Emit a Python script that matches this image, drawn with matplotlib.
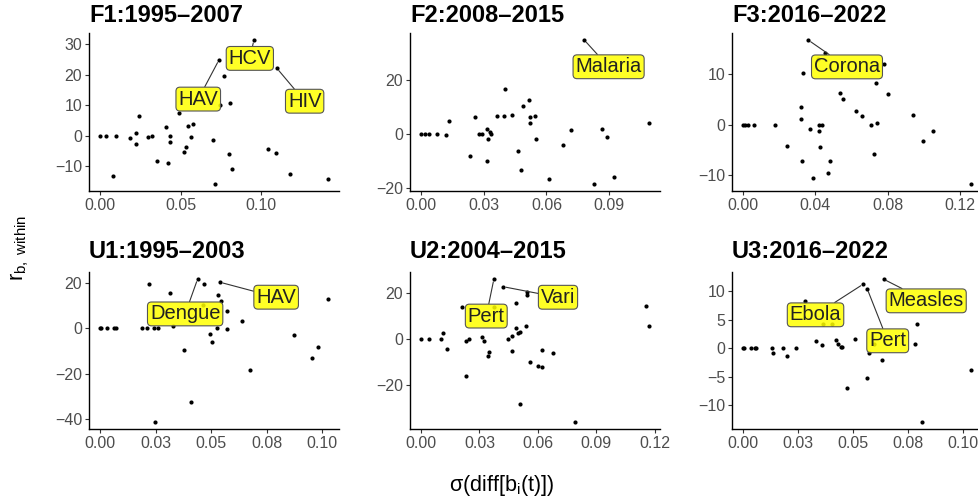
import matplotlib
matplotlib.use("Agg")
import matplotlib.pyplot as plt

plt.rcParams['font.family'] = ['Liberation Sans', 'DejaVu Sans']
plt.rcParams['mathtext.fontset'] = 'custom'
plt.rcParams['mathtext.rm'] = 'Liberation Sans'
plt.rcParams['mathtext.it'] = 'Liberation Sans'

# ---------------- data ----------------
titles = ["F1:1995\u20132007", "F2:2008\u20132015", "F3:2016\u20132022",
          "U1:1995\u20132003", "U2:2004\u20132015", "U3:2016\u20132022"]

F1_x = [0.000, 0.0037, 0.0097, 0.0079, 0.0182, 0.0222, 0.0224, 0.0238, 0.0298, 0.0319, 0.035, 0.0408,
        0.042, 0.0433, 0.0435, 0.0487, 0.0522, 0.0534, 0.0547, 0.0567, 0.0578, 0.0702, 0.0716, 0.0737,
        0.0772, 0.0746, 0.0807, 0.0799, 0.0818, 0.0955, 0.1041, 0.1099, 0.109, 0.1178, 0.1414]
F1_y = [0, 0, 0, -13.2, -0.9, 0.9, -2.9, 6.5, -0.4, 0, -8.5, 2.7, -9.0, 0, -2.0, 7.5, -5.3, -3.7, 3.2,
        -0.4, 3.7, -1.4, -15.9, 24.8, 19.7, 9.9, 10.8, -6.2, -10.9, 31.4, -4.3, 22.1, -5.7, -12.7, -14.2]
F1_names = ["HAV", "HCV", "HIV"]
F1_lab_x = [0.0737, 0.0955, 0.1099]
F1_lab_y = [24.8, 31.4, 22.1]

F2_x = [0, 0.0019, 0.0038, 0.0073, 0.0118, 0.0134, 0.0235, 0.0257, 0.0275, 0.029, 0.0313, 0.0314, 0.0321,
        0.033, 0.0332, 0.0362, 0.0394, 0.0402, 0.0436, 0.0464, 0.0476, 0.0488, 0.0514, 0.0522, 0.0523,
        0.0544, 0.0551, 0.0614, 0.0678, 0.0718, 0.0782, 0.0828, 0.0868, 0.0889, 0.0924, 0.109]
F2_y = [0, 0, 0, 0, -0.5, 5.0, -8.2, 6.3, 0, 0, 1.9, -10.1, -1.9, 0.7, -0.1, 6.8, 6.8, 16.9, 7.3, -6.3,
        -13.2, 10.4, 12.8, 6.5, 4.1, 6.8, -1.7, -16.8, -4.1, 1.5, 35.0, -18.5, 1.9, -1.2, -15.9, 4.1]
F2_names = ["Malaria"]
F2_lab_x = [0.0782]
F2_lab_y = [35.0]

F3_x = [0, 0.0007, 0.0026, 0.0061, 0.0175, 0.0243, 0.0319, 0.032, 0.0327, 0.0329, 0.0361, 0.0367, 0.0389,
        0.042, 0.0422, 0.0424, 0.0435, 0.0455, 0.0472, 0.0483, 0.0535, 0.0551, 0.0627, 0.0656, 0.0706,
        0.0726, 0.0737, 0.0741, 0.0783, 0.0802, 0.0942, 0.0994, 0.1053, 0.1261, 0.0415]
F3_y = [0, 0, 0, 0, 0, -4.1, 1.2, 3.6, -7.1, 10.2, 16.8, -0.8, -10.6, -1.3, 0, -4.4, 0, 14.3, -9.6, -7.1,
        6.3, 5.2, 2.8, 1.7, 0, -5.7, 8.3, 0.3, 12.1, 6.1, 1.9, -3.2, -1.3, -11.7, 13.1]
F3_names = ["Corona"]
F3_lab_x = [0.0361]
F3_lab_y = [16.8]

U1_x = [0, 0.0003, 0.003, 0.0061, 0.007, 0.0186, 0.0211, 0.0219, 0.0243, 0.0246, 0.0258, 0.0316, 0.0327,
        0.0375, 0.0409, 0.0438, 0.0469, 0.0463, 0.0493, 0.0504, 0.0525, 0.0531, 0.054, 0.0543, 0.0571,
        0.0571, 0.0636, 0.0676, 0.0871, 0.0952, 0.0982, 0.1024]
U1_y = [0, 0, 0, 0, 0, 0, 0, 19.5, 0, -41.4, 0, 15.7, 0.9, -9.5, -32.8, 21.8, 19.5, 10.4, -2.6, -5.9, 0,
        14.9, 20.4, 11.9, 7.5, -0.4, 3.4, -18.6, -2.9, -13.2, -8.2, 13.2]
U1_names = ["Dengue", "HAV"]
U1_lab_x = [0.0438, 0.054]
U1_lab_y = [21.8, 20.4]

U2_x = [0.0002, 0.0043, 0.0103, 0.0113, 0.0132, 0.0212, 0.0229, 0.0232, 0.0246, 0.0315, 0.0321, 0.0347,
        0.0344, 0.0374, 0.0376, 0.0422, 0.0448, 0.0467, 0.0467, 0.0489, 0.049, 0.0499, 0.0506, 0.0509,
        0.054, 0.0545, 0.0545, 0.0561, 0.06, 0.0621, 0.0621, 0.0677, 0.079, 0.1156, 0.1168]
U2_y = [0, 0, 0, 2.7, -4.2, 14.0, -0.7, -15.8, 0, 1.0, -0.6, -5.6, -7.5, 26.2, 14.1, 22.9, 0, 1.3, -5.2,
        15.8, 4.7, 2.9, 3.3, -28.1, 5.6, 20.4, 19.3, -9.9, -11.7, -12.1, -4.7, -6.0, -36.0, 14.4, 5.6]
U2_names = ["Pert", "Vari"]
U2_lab_x = [0.0374, 0.0422]
U2_lab_y = [26.2, 22.9]

U3_x = [0, 0.0003, 0.0035, 0.0054, 0.0059, 0.0131, 0.0133, 0.018, 0.0198, 0.0237, 0.0278, 0.0328, 0.0358,
        0.0363, 0.0403, 0.042, 0.0429, 0.0444, 0.045, 0.0471, 0.0507, 0.0544, 0.0563, 0.0562, 0.0569,
        0.0592, 0.063, 0.0637, 0.0778, 0.0789, 0.0811, 0.1033]
U3_y = [0, 0, 0, 0, 0, 0, -0.8, 0, -1.3, 0, 8.2, 1.2, 0.5, 4.3, 4.3, 1.5, 0.8, 0.2, 0.2, -6.9, 1.7, 11.2,
        10.4, -5.2, -0.8, 0.7, -2.0, 12.1, 0.7, 4.2, -12.9, -3.8]
U3_names = ["Ebola", "Pert", "Measles"]
U3_lab_x = [0.0544, 0.0563, 0.0637]
U3_lab_y = [11.2, 10.4, 12.1]

x_ticks = [[0, 0.05, 0.10], [0, 0.03, 0.06, 0.09], [0, 0.04, 0.08, 0.12],
           [0, 0.025, 0.05, 0.075, 0.10], [0, 0.03, 0.06, 0.09, 0.12], [0, 0.025, 0.05, 0.075, 0.10]]
x_ticklabels = [["0.00", "0.05", "0.10"], ["0.00", "0.03", "0.06", "0.09"], ["0.00", "0.04", "0.08", "0.12"],
                ["0.00", "0.03", "0.05", "0.08", "0.10"], ["0.00", "0.03", "0.06", "0.09", "0.12"],
                ["0.00", "0.03", "0.05", "0.08", "0.10"]]
y_ticks = [[-10, 0, 10, 20, 30], [-20, 0, 20], [-10, 0, 10],
           [-40, -20, 0, 20], [-20, 0, 20], [-10, -5, 0, 5, 10]]

# ---------------- layout (label box placement, in data units) ----------------
box_pos = [
    [(0.0609, 12.0), (0.0930, 25.4), (0.1271, 11.3)],
    [(0.0898, 25.1)],
    [(0.0575, 11.5)],
    [(0.0382, 6.4), (0.0792, 13.8)],
    [(0.0335, 10.1), (0.0703, 18.3)],
    [(0.0328, 5.85), (0.0656, 1.3), (0.0831, 8.3)],
]

panels = [(F1_x, F1_y, F1_names, F1_lab_x, F1_lab_y),
          (F2_x, F2_y, F2_names, F2_lab_x, F2_lab_y),
          (F3_x, F3_y, F3_names, F3_lab_x, F3_lab_y),
          (U1_x, U1_y, U1_names, U1_lab_x, U1_lab_y),
          (U2_x, U2_y, U2_names, U2_lab_x, U2_lab_y),
          (U3_x, U3_y, U3_names, U3_lab_x, U3_lab_y)]

W, H = 979, 503
fig = plt.figure(figsize=(W / 100, H / 100), dpi=100)

col_left = [89, 410, 732]
ax_w = 250
row_top = [33, 272]
row_bot = [191, 429]

for i, (xs, ys, names, lx, ly) in enumerate(panels):
    r, c = divmod(i, 3)
    l = col_left[c]
    t, b = row_top[r], row_bot[r]
    ax = fig.add_axes([l / W, 1 - b / H, ax_w / W, (b - t) / H])
    ax.scatter(xs, ys, s=9, color='black', linewidths=0, zorder=3)
    ax.margins(x=0.05, y=0.05)
    ax.set_xticks(x_ticks[i])
    ax.set_xticklabels(x_ticklabels[i])
    ax.set_yticks(y_ticks[i])
    ax.set_yticklabels([("\u2212" + str(abs(v))) if v < 0 else str(v) for v in y_ticks[i]])
    for s in ['top', 'right']:
        ax.spines[s].set_visible(False)
    for s in ['left', 'bottom']:
        ax.spines[s].set_linewidth(1.0)
        ax.spines[s].set_color('black')
    ax.tick_params(axis='both', length=3, width=0.8, color='#333333', labelcolor='#4D4D4D',
                   labelsize=11.5, pad=2)
    for k, name in enumerate(names):
        bx, by = box_pos[i][k]
        ax.annotate(name, xy=(lx[k], ly[k]), xytext=(bx, by), textcoords='data',
                    ha='center', va='center', fontsize=14.5, color='#222222', zorder=5,
                    bbox=dict(boxstyle='round,pad=0.12,rounding_size=0.2', fc=(1, 1, 0, 0.85),
                              ec='#555555', lw=0.8),
                    arrowprops=dict(arrowstyle='-', color='#333333', lw=0.8, shrinkA=0, shrinkB=2),
                    annotation_clip=False)
    fig.text(l / W, 1 - (22 if r == 0 else 258) / H, titles[i], fontsize=17, fontweight='bold',
             ha='left', va='baseline', color='black')

fig.text(20 / W, 1 - 248 / H, r'$\mathregular{r_{b,\ within}}$', rotation=90, ha='center', va='center',
         fontsize=15.5, color='black')
fig.text(502 / W, 1 - 485 / H, r'$\mathregular{\sigma\left(diff\left[b_i(t)\right]\right)}$',
         ha='center', va='center', fontsize=15.5, color='black')

fig.savefig('out.png', dpi=100)
